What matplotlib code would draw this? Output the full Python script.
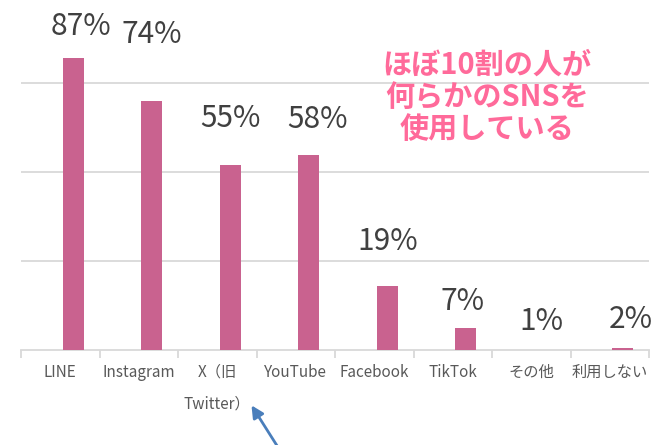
import matplotlib
matplotlib.use('Agg')
import matplotlib.pyplot as plt
import numpy as np

plt.rcParams['font.family'] = ['Noto Sans CJK JP', 'DejaVu Sans']

# ── data ──
categories = ['LINE', 'Instagram', 'X（旧\nTwitter）', 'YouTube', 'Facebook', 'TikTok', 'その他', '利用しない']
values = [87, 74, 55, 58, 19, 6.5, 0, 0.7]   # bar heights as drawn
value_labels = ['87%', '74%', '55%', '58%', '19%', '7%', '1%', '2%']
# label nudges (pixels) — labels were placed by hand in the original
lab_dx = [8, 0, 0, 9, 0, -3, -3, 8]
lab_dy = [31, 67, 47, 36, 45, 27, 29, 28]

BAR = '#C9628F'
GRID = '#D9D9D9'

fig = plt.figure(figsize=(6.52, 4.45), dpi=100)
ax = fig.add_axes([21/652, 1-350/445, 628/652, 350/445])

x = np.arange(len(categories))
ax.bar(x + 0.165, values, 0.27, color=BAR, zorder=3)
for i, v in enumerate(values):
    ax.annotate(value_labels[i], (x[i] + 0.165, v), xytext=(lab_dx[i], lab_dy[i]),
                textcoords='offset pixels', ha='center', va='center',
                fontsize=21.5, color='#404040', zorder=4)

ax.set_xlim(-0.5, len(categories) - 0.5)
ax.set_ylim(0, 104.2)
ax.set_yticks([26.5, 53, 79.5])
ax.yaxis.grid(True, color=GRID, lw=1.3, zorder=0)
ax.tick_params(axis='y', length=0, labelleft=False)

# category boundaries as major ticks, labels on minor ticks at centres
ax.set_xticks(np.arange(len(categories) + 1) - 0.5)
ax.set_xticklabels([])
ax.set_xticks(x, minor=True)
ax.set_xticklabels(categories, minor=True, fontsize=11, color='#595959', linespacing=2.1, va='top')
ax.tick_params(axis='x', which='major', length=6, color=GRID, width=1.3)
ax.tick_params(axis='x', which='minor', length=0, pad=10)

for s in ['top', 'right', 'left']:
    ax.spines[s].set_visible(False)
ax.spines['bottom'].set_color(GRID)
ax.spines['bottom'].set_linewidth(1.3)

fig.text(487/652, 1-97/445, 'ほぼ10割の人が\n何らかのSNSを\n使用している', ha='center', va='center',
         fontsize=21, fontweight='bold', color='#FF6A9A', linespacing=1.1)

# arrow pointing at the X (Twitter) label
ax.annotate('', xy=(250/652, 1-403/445), xycoords='figure fraction',
            xytext=(281/652, 1-452/445), textcoords='figure fraction',
            arrowprops=dict(arrowstyle='-|>', color='#4A7EBB', lw=2, mutation_scale=18),
            annotation_clip=False)

plt.savefig('out.png', dpi=100)
